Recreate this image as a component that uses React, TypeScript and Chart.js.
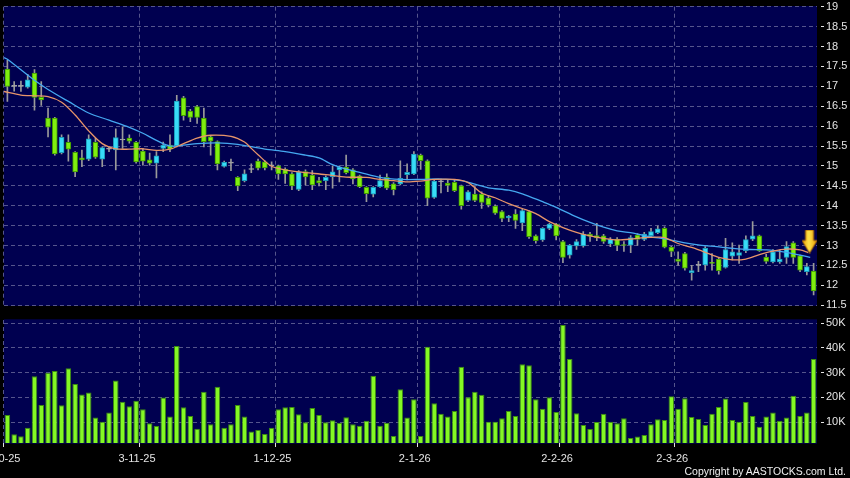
import React, { useEffect, useRef } from "react";
import { Chart, registerables } from "chart.js";
Chart.register(...registerables);

const dates = [
  "2-10-25","3-10-25","6-10-25","8-10-25","9-10-25","10-10-25","13-10-25","14-10-25","15-10-25","16-10-25","17-10-25","20-10-25","21-10-25","22-10-25","23-10-25","24-10-25","27-10-25","28-10-25","30-10-25","31-10-25",
  "3-11-25","4-11-25","5-11-25","6-11-25","7-11-25","10-11-25","11-11-25","12-11-25","13-11-25","14-11-25","17-11-25","18-11-25","19-11-25","20-11-25","21-11-25","24-11-25","25-11-25","26-11-25","27-11-25","28-11-25",
  "1-12-25","2-12-25","3-12-25","4-12-25","5-12-25","8-12-25","9-12-25","10-12-25","11-12-25","12-12-25","15-12-25","16-12-25","17-12-25","18-12-25","19-12-25","22-12-25","23-12-25","24-12-25","29-12-25","30-12-25","31-12-25",
  "2-1-26","5-1-26","6-1-26","7-1-26","8-1-26","9-1-26","12-1-26","13-1-26","14-1-26","15-1-26","16-1-26","19-1-26","20-1-26","21-1-26","22-1-26","23-1-26","26-1-26","27-1-26","28-1-26","29-1-26","30-1-26",
  "2-2-26","3-2-26","4-2-26","5-2-26","6-2-26","9-2-26","10-2-26","11-2-26","12-2-26","13-2-26","16-2-26","20-2-26","23-2-26","24-2-26","25-2-26","26-2-26","27-2-26",
  "2-3-26","3-3-26","4-3-26","5-3-26","6-3-26","9-3-26","10-3-26","11-3-26","12-3-26","13-3-26","16-3-26","17-3-26","18-3-26","19-3-26","20-3-26","23-3-26","24-3-26","25-3-26","26-3-26","27-3-26","30-3-26",
];

const tickDates = ["2-10-25", "3-11-25", "1-12-25", "2-1-26", "2-2-26", "2-3-26"];

const opens = [
  17.43,17.0,17.0,16.98,17.33,16.72,16.2,16.2,15.33,15.59,15.34,15.2,15.17,15.59,15.17,15.42,15.4,15.65,15.7,15.59,
  15.37,15.15,15.07,15.44,15.52,15.51,16.71,16.38,16.49,16.2,15.73,15.61,14.99,15.07,14.71,14.63,14.91,15.12,15.1,15.0,
  15.0,14.92,14.8,14.41,14.86,14.77,14.63,14.63,14.73,14.9,14.97,14.9,14.75,14.46,14.29,14.48,14.71,14.55,14.55,14.78,14.8,
  15.27,15.13,14.21,14.6,14.57,14.59,14.5,14.13,14.29,14.29,14.19,13.99,13.85,13.69,13.79,13.57,13.85,13.24,13.14,13.43,13.54,
  13.1,12.76,12.99,12.99,13.29,13.25,13.24,13.04,13.16,13.02,13.01,13.26,13.15,13.25,13.32,13.43,12.96,
  12.66,12.8,12.32,12.5,12.51,12.57,12.66,12.45,12.73,12.75,12.87,13.16,13.24,12.71,12.59,12.59,12.7,13.07,12.74,12.34,12.36,
];
const highs = [
  17.65,17.12,17.13,17.3,17.42,17.12,16.45,16.22,15.78,15.78,15.36,15.4,15.78,15.69,15.48,15.47,15.93,15.98,15.78,15.62,
  15.44,15.32,15.36,15.6,15.78,16.77,16.75,16.42,16.52,16.45,15.75,15.63,15.12,15.17,14.73,14.9,15.05,15.17,15.13,15.1,
  15.02,14.95,14.83,14.88,14.9,14.88,14.71,14.75,15.0,15.0,15.27,14.93,14.77,14.48,14.48,14.77,14.8,14.58,15.13,15.05,15.36,
  15.3,15.15,14.66,14.67,14.65,14.65,14.52,14.38,14.48,14.35,14.25,14.02,13.88,13.76,13.9,13.92,13.88,13.27,13.45,13.56,13.56,
  13.13,13.03,13.15,13.35,13.33,13.56,13.28,13.2,13.2,13.1,13.25,13.3,13.33,13.43,13.49,13.47,12.98,
  12.84,12.83,12.5,12.6,12.97,12.8,12.7,13.18,13.07,13.01,13.24,13.6,13.26,12.78,12.9,12.89,13.1,13.1,12.76,12.55,12.55,
];
const lows = [
  16.62,16.88,16.87,16.95,16.4,16.52,15.73,15.27,15.3,15.12,14.73,14.98,15.13,15.19,14.98,15.36,14.9,15.44,15.57,15.07,
  15.02,15.02,14.7,15.36,15.36,15.48,16.15,16.11,16.07,15.48,15.27,14.9,14.97,14.88,14.38,14.6,14.83,14.9,14.9,14.9,
  14.66,14.56,14.4,14.38,14.52,14.4,14.5,14.4,14.44,14.6,14.8,14.55,14.45,14.1,14.22,14.46,14.4,14.27,14.52,14.65,14.78,
  14.91,14.0,14.18,14.32,14.35,14.35,13.91,14.1,14.1,13.93,13.97,13.78,13.6,13.6,13.43,13.37,13.18,13.06,13.1,13.4,13.14,
  12.57,12.68,12.9,12.96,13.1,13.12,13.05,12.97,12.87,12.85,12.82,13.0,13.12,13.2,13.3,12.94,12.72,
  12.5,12.38,12.13,12.34,12.38,12.38,12.28,12.43,12.64,12.55,12.82,13.12,12.85,12.55,12.56,12.55,12.55,12.55,12.34,12.26,11.76,
];
const closes = [
  17.0,17.0,17.0,17.16,16.72,16.66,15.97,15.3,15.72,15.42,14.85,15.15,15.68,15.22,15.46,15.42,15.71,15.65,15.62,15.1,
  15.12,15.07,15.25,15.52,15.42,16.63,16.26,16.22,16.22,15.61,15.62,15.05,15.09,15.07,14.5,14.8,14.91,14.94,14.95,15.0,
  14.8,14.8,14.5,14.85,14.72,14.52,14.57,14.71,14.85,14.97,14.83,14.67,14.48,14.3,14.46,14.63,14.44,14.4,14.69,14.84,15.3,
  15.13,14.19,14.62,14.6,14.51,14.38,14.0,14.35,14.13,14.08,14.02,13.81,13.68,13.74,13.63,13.88,13.22,13.12,13.43,13.54,13.24,
  12.7,13.01,13.1,13.29,13.23,13.19,13.1,13.16,13.0,13.0,13.2,13.15,13.29,13.35,13.42,12.96,12.85,
  12.6,12.43,12.37,12.5,12.93,12.55,12.37,12.9,12.84,12.82,13.15,13.24,12.87,12.6,12.84,12.66,12.97,12.7,12.38,12.47,11.86,
];

// volume in thousands of shares
const volumesK = [
  12.85,5.0,4.2,7.7,28.5,16.9,30.0,30.7,16.8,31.8,25.4,21.2,22.0,11.8,10.1,13.9,26.8,18.2,16.4,18.6,
  15.2,9.5,8.4,19.9,12.2,40.8,16.0,12.4,7.3,22.3,9.1,24.3,7.7,9.1,16.9,12.2,6.2,6.8,5.1,7.7,
  15.2,16.0,16.1,13.1,9.9,15.7,12.85,9.9,10.7,9.7,11.9,9.1,8.5,10.5,28.8,8.5,9.7,4.3,23.3,11.8,19.2,
  4.3,40.5,17.6,13.3,12.2,14.5,32.4,20.0,22.3,21.0,10.1,10.1,11.5,14.5,12.4,33.4,33.0,19.2,15.4,20.0,14.1,
  49.3,35.5,13.5,8.8,7.2,10.0,13.3,10.1,9.5,11.5,3.5,4.1,4.7,9.1,11.1,10.8,20.4,
  15.4,19.6,12.0,11.2,8.8,13.3,16.1,19.5,10.8,10.1,18.1,12.4,8.1,12.2,13.9,10.5,11.8,20.6,12.4,13.9,35.5,
];

// moving averages: [slot index, price]
const maLong = [
  [-0.5,17.72],[0,17.68],[4,17.15],[6,16.92],[9,16.62],[12,16.33],[15,16.15],[18,15.97],[20,15.82],[22,15.64],[24,15.5],
  [26,15.52],[28,15.56],[31,15.58],[34,15.54],[38,15.42],[41,15.36],[44,15.27],[46,15.2],[48,15.03],[50,14.92],[52,14.84],
  [55,14.71],[58,14.66],[61,14.66],[64,14.67],[67,14.63],[69,14.54],[71,14.45],[74,14.39],[76,14.3],[79,14.1],[81,13.96],
  [84,13.72],[86,13.58],[88,13.46],[90,13.37],[92.4,13.31],[94.8,13.22],[97.3,13.16],[99.8,13.07],[102.2,13.01],[104.7,12.97],
  [107.1,12.93],[109.6,12.9],[112.1,12.89],[114.5,12.84],[117,12.76],[118.5,12.7],
];
const maShort = [
  [-0.5,16.87],[2,16.78],[4,16.76],[6,16.74],[8,16.6],[10,16.28],[12,15.88],[14,15.56],[16,15.43],[18,15.42],[20,15.43],
  [22,15.39],[24,15.42],[26,15.56],[28,15.7],[30,15.77],[33,15.74],[35,15.6],[36,15.44],[37,15.28],[39,14.99],[41,14.9],
  [43,14.85],[47,14.78],[50,14.72],[53,14.71],[55,14.66],[57,14.63],[59,14.6],[61,14.62],[63,14.66],[66,14.66],[68,14.58],
  [70,14.32],[72,14.2],[74,14.05],[76,13.93],[78,13.8],[80,13.6],[82,13.45],[84,13.33],[86,13.24],[88,13.18],[90,13.14],
  [92,13.16],[94,13.2],[96,13.21],[97,13.2],[99,13.05],[101,12.95],[103,12.83],[105,12.7],[107,12.64],[109,12.66],[111,12.77],
  [113,12.86],[115,12.91],[117,12.89],[118.2,12.82],
];

// signal arrow marker (slot index, price at its centre)
const signalPoint = [{ x: 118.4, y: 13.1 }];

const priceTicks = [11.5, 12, 12.5, 13, 13.5, 14, 14.5, 15, 15.5, 16, 16.5, 17, 17.5, 18, 18.5, 19];
const volumeTicksK = [10, 20, 30, 40, 50];

const BG = "#000050";
const GRID = "#55558c";
const TEXT = "#e4e4e4";
const FONT = { family: "'Liberation Sans', Arial, sans-serif", size: 11 };
const UP = "#38dcf8";
const UP_EDGE = "#1a9ab8";
const DOWN = "#80ee10";
const DOWN_EDGE = "#3f9a00";
const FLAT = "#a8a8a8";
const WICK = "#9a9a9a";

const tickSet = new Set(tickDates);

const areaBg = {
  id: "areaBg",
  beforeDraw(chart: any) {
    const { ctx, chartArea: a } = chart;
    ctx.save();
    ctx.fillStyle = BG;
    ctx.fillRect(a.left, a.top - 0.7, a.right - a.left, a.bottom - a.top + 1.4);
    ctx.restore();
  },
};

function makeArrow(): HTMLCanvasElement {
  const c = document.createElement("canvas");
  c.width = 16;
  c.height = 24;
  const g = c.getContext("2d")!;
  g.beginPath();
  g.moveTo(4, 0.5);
  g.lineTo(12, 0.5);
  g.lineTo(12, 11);
  g.lineTo(15.5, 11);
  g.lineTo(8, 23.5);
  g.lineTo(0.5, 11);
  g.lineTo(4, 11);
  g.closePath();
  const grad = g.createLinearGradient(0, 0, 16, 0);
  grad.addColorStop(0, "#e89a00");
  grad.addColorStop(0.45, "#ffe24a");
  grad.addColorStop(1, "#e89a00");
  g.fillStyle = grad;
  g.fill();
  g.strokeStyle = "#b06a00";
  g.lineWidth = 1;
  g.stroke();
  return c;
}

const vGridColor = (c: any) =>
  typeof c.index === "number" && tickSet.has(dates[c.index]) ? GRID : "rgba(0,0,0,0)";

export default function App() {
  const priceRef = useRef<HTMLCanvasElement>(null);
  const volRef = useRef<HTMLCanvasElement>(null);

  useEffect(() => {
    const bodyColor = dates.map((_, i) =>
      closes[i] > opens[i] ? UP : closes[i] < opens[i] ? DOWN : FLAT
    );
    const bodyEdge = dates.map((_, i) =>
      closes[i] > opens[i] ? UP_EDGE : closes[i] < opens[i] ? DOWN_EDGE : FLAT
    );

    const price = new Chart(priceRef.current!, {
      type: "bar",
      data: {
        labels: dates,
        datasets: [
          {
            type: "line",
            xAxisID: "xl",
            data: signalPoint,
            showLine: false,
            pointStyle: makeArrow() as any,
            pointRadius: 10,
            order: 0,
          } as any,
          {
            type: "line",
            xAxisID: "xl",
            data: maShort.map(([x, y]) => ({ x, y })),
            borderColor: "#e8956a",
            borderWidth: 1.3,
            pointRadius: 0,
            tension: 0.3,
            order: 1,
          } as any,
          {
            type: "line",
            xAxisID: "xl",
            data: maLong.map(([x, y]) => ({ x, y })),
            borderColor: "#45a8f0",
            borderWidth: 1.3,
            pointRadius: 0,
            tension: 0.3,
            order: 2,
          } as any,
          {
            type: "bar",
            xAxisID: "x",
            data: dates.map((_, i) => [opens[i], closes[i]]),
            backgroundColor: bodyColor,
            borderColor: bodyEdge,
            borderWidth: 1,
            borderSkipped: false,
            barThickness: 5,
            minBarLength: 1,
            grouped: false,
            order: 3,
          } as any,
          {
            type: "bar",
            xAxisID: "x",
            data: dates.map((_, i) => [lows[i], highs[i]]),
            backgroundColor: WICK,
            borderWidth: 0,
            barThickness: 1,
            grouped: false,
            order: 4,
          } as any,
        ],
      },
      options: {
        responsive: false,
        animation: false,
        devicePixelRatio: 1,
        events: [],
        layout: { autoPadding: false, padding: { left: 4, top: 6.7, right: 0, bottom: 6.8 } },
        plugins: { legend: { display: false }, tooltip: { enabled: false } },
        scales: {
          x: {
            type: "category",
            offset: true,
            grid: { color: vGridColor, drawTicks: false, offset: true },
            border: { display: false, dash: [4, 3] },
            ticks: { display: false, autoSkip: false },
            afterFit: (s: any) => {
              s.height = 0;
              s.paddingLeft = 0;
              s.paddingRight = 0;
            },
          },
          xl: {
            type: "linear",
            display: false,
            offset: false,
            min: -0.5,
            max: dates.length - 0.5,
          },
          y: {
            position: "right",
            min: 11.5,
            max: 19,
            afterBuildTicks: (s: any) => {
              s.ticks = priceTicks.map((v) => ({ value: v }));
            },
            grid: {
              color: GRID,
              drawTicks: true,
              tickLength: 7,
              tickColor: TEXT,
              tickBorderDash: [0, 4, 3, 100],
            },
            border: { display: false, dash: [4, 3] },
            ticks: {
              color: TEXT,
              font: FONT,
              padding: 2,
              callback: (v: any) => `${v}`,
            },
            afterFit: (s: any) => {
              s.width = 33;
              s.paddingTop = 0;
              s.paddingBottom = 0;
            },
          },
        },
      } as any,
      plugins: [areaBg],
    });

    const vol = new Chart(volRef.current!, {
      type: "bar",
      data: {
        labels: dates,
        datasets: [
          {
            data: volumesK,
            backgroundColor: "#84f824",
            borderColor: "#3c8c10",
            borderWidth: 1,
            borderSkipped: "bottom",
            barPercentage: 0.82,
            categoryPercentage: 1,
          },
        ],
      },
      options: {
        responsive: false,
        animation: false,
        devicePixelRatio: 1,
        events: [],
        layout: { autoPadding: false, padding: { left: 4, top: 8, right: 0, bottom: 0 } },
        plugins: { legend: { display: false }, tooltip: { enabled: false } },
        scales: {
          x: {
            type: "category",
            offset: true,
            grid: {
              color: vGridColor,
              offset: true,
              drawTicks: true,
              tickLength: 4,
              tickColor: (c: any) =>
                typeof c.index === "number" && tickSet.has(dates[c.index]) ? TEXT : "rgba(0,0,0,0)",
            },
            border: { display: false, dash: [4, 3] },
            ticks: {
              autoSkip: false,
              maxRotation: 0,
              minRotation: 0,
              color: TEXT,
              font: FONT,
              padding: 5,
              labelOffset: -5.9,
              callback: (_v: any, i: number) => (tickSet.has(dates[i]) ? dates[i] : ""),
            },
            afterFit: (s: any) => {
              s.height = 35;
              s.paddingLeft = 0;
              s.paddingRight = 0;
            },
          },
          y: {
            position: "right",
            min: 1.49,
            max: 51.35,
            afterBuildTicks: (s: any) => {
              s.ticks = volumeTicksK.map((v) => ({ value: v }));
            },
            grid: {
              color: GRID,
              drawTicks: true,
              tickLength: 7,
              tickColor: TEXT,
              tickBorderDash: [0, 4, 3, 100],
            },
            border: { display: false, dash: [4, 3] },
            ticks: {
              color: TEXT,
              font: FONT,
              padding: 2,
              callback: (v: any) => `${v}K`,
            },
            afterFit: (s: any) => {
              s.width = 33;
              s.paddingTop = 0;
              s.paddingBottom = 0;
            },
          },
        },
      } as any,
      plugins: [areaBg],
    });

    return () => {
      price.destroy();
      vol.destroy();
    };
  }, []);

  return (
    <div
      style={{
        position: "fixed",
        left: 0,
        top: 0,
        width: 850,
        height: 478,
        background: "#000",
        overflow: "hidden",
      }}
    >
      <canvas
        ref={priceRef}
        width={850}
        height={312}
        style={{ position: "absolute", left: 0, top: 0, width: 850, height: 312 }}
      />
      <canvas
        ref={volRef}
        width={850}
        height={166}
        style={{ position: "absolute", left: 0, top: 312, width: 850, height: 166 }}
      />
      <div
        style={{
          position: "absolute",
          right: 4,
          top: 465,
          fontFamily: "'Liberation Sans', Arial, sans-serif",
          fontSize: 10.5,
          lineHeight: "12px",
          color: "#f0f0f0",
          whiteSpace: "nowrap",
        }}
      >
        Copyright by AASTOCKS.com Ltd.
      </div>
    </div>
  );
}
